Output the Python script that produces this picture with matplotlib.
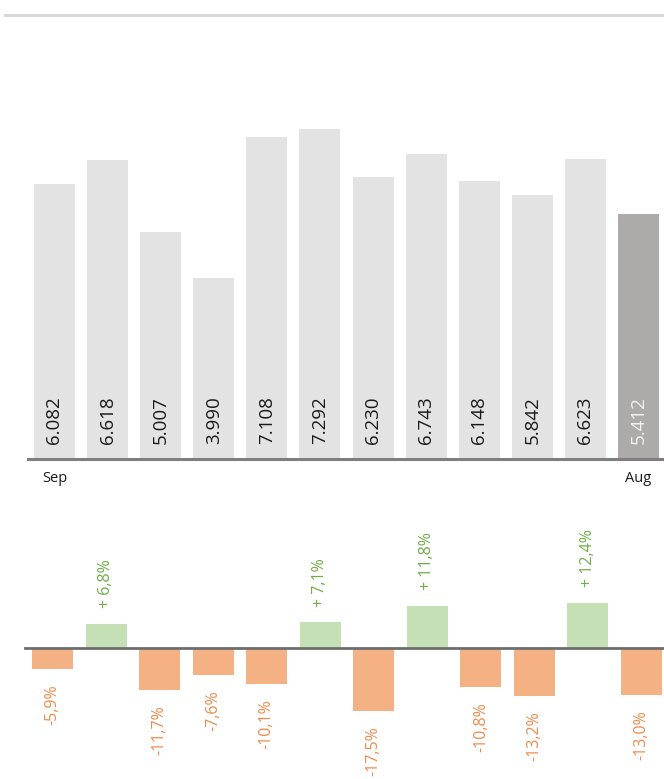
import matplotlib
matplotlib.use("Agg")
import matplotlib.pyplot as plt
from matplotlib.lines import Line2D

plt.rcParams['font.family'] = ['Open Sans', 'DejaVu Sans']

# data
months = ['Sep', '', '', '', '', '', '', '', '', '', '', 'Aug']
values = [6.082, 6.618, 5.007, 3.990, 7.108, 7.292, 6.230, 6.743, 6.148, 5.842, 6.623, 5.412]
value_labels = ['6.082', '6.618', '5.007', '3.990', '7.108', '7.292',
                '6.230', '6.743', '6.148', '5.842', '6.623', '5.412']
changes = [-5.9, 6.8, -11.7, -7.6, -10.1, 7.1, -17.5, 11.8, -10.8, -13.2, 12.4, -13.0]
change_labels = ['-5,9%', '+ 6,8%', '-11,7%', '-7,6%', '-10,1%', '+ 7,1%',
                 '-17,5%', '+ 11,8%', '-10,8%', '-13,2%', '+ 12,4%', '-13,0%']

W, H = 664, 779
fig = plt.figure(figsize=(W / 100, H / 100), dpi=100)

# separator line under the (cut off) title
fig.add_artist(Line2D([5 / W, 1], [1 - 14.5 / H, 1 - 14.5 / H], color='#D9D9D9', lw=2.2))

# --- top: absolute values ---
ax1 = fig.add_axes([28 / W, 320 / H, 1 - 28 / W, 430 / H])
x = list(range(len(values)))
colors = ['#E3E3E3'] * (len(values) - 1) + ['#AEAAAA']
ax1.bar(x, values, width=0.772, color=colors, zorder=1)
for i, (v, lab) in enumerate(zip(values, value_labels)):
    tc = '#F2F2F2' if i == len(values) - 1 else '#1A1A1A'
    ax1.annotate(lab, (i, 0), xytext=(0, 11), textcoords='offset points',
                 rotation=90, ha='center', va='bottom', fontsize=13.5, color=tc)
ax1.set_xlim(-0.499, 11.48)
ax1.set_ylim(0, 9.503)
for s in ['top', 'left', 'right']:
    ax1.spines[s].set_visible(False)
ax1.spines['bottom'].set_color('#7F7F7F')
ax1.spines['bottom'].set_linewidth(2.2)
ax1.set_yticks([])
ax1.set_xticks([0, 11])
ax1.set_xticklabels([months[0], months[-1]], fontsize=10.5, color='#1A1A1A')
ax1.tick_params(axis='x', length=0, pad=8.5)

# --- bottom: change in percent ---
ax2 = fig.add_axes([25 / W, 0, 1 - 25 / W, 249 / H])
bar_cols = ['#C5E0B4' if c > 0 else '#F4B183' for c in changes]
ax2.bar(x, changes, width=0.766, color=bar_cols, zorder=1)
for i, (c, lab) in enumerate(zip(changes, change_labels)):
    if c > 0:
        ax2.annotate(lab, (i, c), xytext=(0, 11.5), textcoords='offset points',
                     rotation=90, ha='center', va='bottom', fontsize=11.5, color='#70AD47')
    else:
        ax2.annotate(lab, (i, c), xytext=(0, -11), textcoords='offset points',
                     rotation=90, ha='center', va='top', fontsize=11.5, color='#F08A4B')
ax2.set_xlim(-0.514, 11.42)
ax2.set_ylim(-36.4, 32.8)
for s in ['top', 'left', 'right']:
    ax2.spines[s].set_visible(False)
ax2.spines['bottom'].set_position(('data', 0))
ax2.spines['bottom'].set_color('#6E6E6E')
ax2.spines['bottom'].set_linewidth(2.0)
ax2.set_xticks([])
ax2.set_yticks([])

fig.savefig('out.png', dpi=100)
